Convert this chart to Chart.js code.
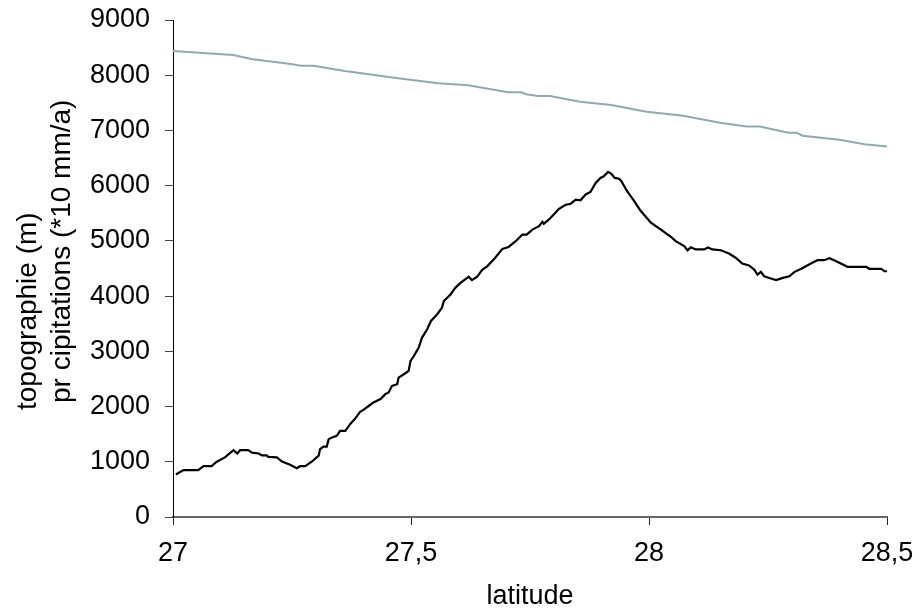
<!DOCTYPE html>
<html>
<head>
<meta charset="utf-8">
<title>topographie et précipitations</title>
<script src="https://cdn.jsdelivr.net/npm/chart.js@4/dist/chart.umd.min.js"></script>
<style>
  html, body { margin: 0; padding: 0; background: #fff; }
  #wrap { position: relative; width: 922px; height: 614px; }
</style>
</head>
<body>
<div id="wrap"><canvas id="profile" width="922" height="614"></canvas></div>
<script>
// latitude ticks and labels (comma decimals, as in the original)
const xTicks = [27, 27.5, 28, 28.5];
const xTickLabels = ['27', '27,5', '28', '28,5'];
const yTicks = [0, 1000, 2000, 3000, 4000, 5000, 6000, 7000, 8000, 9000];

// axis titles
const xTitle = 'latitude';
const yTitleLines = ['topographie (m)', 'pr cipitations (*10 mm/a)'];

// topography profile (m), black line
const topoLat = [
    27.006, 27.022, 27.053, 27.064, 27.081, 27.092, 27.109, 27.127, 27.135, 27.141,
    27.158, 27.166, 27.180, 27.187, 27.197, 27.200, 27.218, 27.229, 27.246, 27.260,
    27.267, 27.278, 27.292, 27.306, 27.309, 27.316, 27.323, 27.327, 27.334, 27.344,
    27.351, 27.362, 27.372, 27.383, 27.393, 27.400, 27.411, 27.421, 27.436, 27.446,
    27.453, 27.460, 27.471, 27.474, 27.485, 27.495, 27.499, 27.506, 27.516, 27.523,
    27.534, 27.542, 27.555, 27.565, 27.569, 27.583, 27.593, 27.604, 27.618, 27.621,
    27.628, 27.639, 27.650, 27.660, 27.677, 27.692, 27.705, 27.720, 27.734, 27.743,
    27.755, 27.769, 27.776, 27.779, 27.793, 27.811, 27.825, 27.835, 27.846, 27.856,
    27.867, 27.877, 27.888, 27.898, 27.905, 27.914, 27.921, 27.928, 27.937, 27.942,
    27.954, 27.969, 27.982, 28.004, 28.025, 28.046, 28.056, 28.074, 28.081, 28.088,
    28.098, 28.116, 28.124, 28.133, 28.151, 28.168, 28.182, 28.196, 28.210, 28.221,
    28.228, 28.235, 28.242, 28.256, 28.267, 28.281, 28.295, 28.305, 28.323, 28.340,
    28.354, 28.368, 28.379, 28.389, 28.403, 28.417, 28.456, 28.463, 28.488, 28.495,
    28.500
];
const topoValues = [
    770, 850, 850, 920, 920, 1000, 1080, 1210, 1150, 1210,
    1210, 1165, 1150, 1115, 1115, 1090, 1080, 1005, 945, 885,
    920, 920, 1005, 1110, 1230, 1275, 1275, 1410, 1440, 1470,
    1560, 1560, 1680, 1785, 1905, 1940, 2010, 2075, 2135, 2225,
    2255, 2375, 2405, 2525, 2585, 2645, 2825, 2915, 3065, 3245,
    3400, 3550, 3670, 3790, 3910, 4030, 4150, 4240, 4330, 4350,
    4290, 4350, 4480, 4540, 4695, 4855, 4890, 4995, 5115, 5115,
    5205, 5265, 5345, 5310, 5415, 5580, 5655, 5670, 5745, 5735,
    5840, 5885, 6050, 6140, 6170, 6250, 6215, 6140, 6125, 6080,
    5900, 5720, 5550, 5330, 5205, 5075, 4995, 4905, 4830, 4885,
    4845, 4845, 4880, 4845, 4830, 4770, 4695, 4590, 4555, 4480,
    4390, 4440, 4360, 4320, 4290, 4330, 4360, 4435, 4510, 4590,
    4650, 4650, 4685, 4650, 4590, 4530, 4530, 4495, 4495, 4450,
    4450
];

// precipitation (*10 mm/a), grey line
const precipLat = [
    27.000, 27.127, 27.164, 27.193, 27.248, 27.269, 27.295, 27.361, 27.473, 27.557,
    27.620, 27.704, 27.732, 27.742, 27.767, 27.792, 27.855, 27.921, 27.995, 28.072,
    28.149, 28.205, 28.233, 28.293, 28.310, 28.323, 28.400, 28.453, 28.500
];
const precipValues = [
    8440, 8365, 8295, 8260, 8205, 8170, 8170, 8075, 7945, 7855,
    7820, 7690, 7690, 7655, 7625, 7625, 7520, 7460, 7340, 7265,
    7140, 7070, 7070, 6960, 6960, 6905, 6830, 6750, 6710
];

const FONT = "'Liberation Sans', Arial, sans-serif";

// draws the two-line y axis title, left aligned (reading bottom to top)
const yTitlePlugin = {
    id: 'yTitle',
    afterDraw(chart) {
        const ctx = chart.ctx;
        const starts = [{ x: 36, y: 410 }, { x: 70, y: 403 }];
        ctx.save();
        ctx.font = '28px ' + FONT;
        ctx.fillStyle = '#000';
        ctx.textAlign = 'left';
        ctx.textBaseline = 'alphabetic';
        yTitleLines.forEach((line, i) => {
            ctx.save();
            ctx.translate(starts[i].x, starts[i].y);
            ctx.rotate(-Math.PI / 2);
            ctx.fillText(line, 0, 0);
            ctx.restore();
        });
        ctx.restore();
    }
};

const ctx = document.getElementById('profile').getContext('2d');
const profileChart = new Chart(ctx, {
    type: 'line',
    data: {
        datasets: [
            {
                label: 'précipitations',
                data: precipLat.map((x, i) => ({ x, y: precipValues[i] })),
                borderColor: '#8fa9b1',
                borderWidth: 2,
                pointRadius: 0,
                tension: 0
            },
            {
                label: 'topographie',
                data: topoLat.map((x, i) => ({ x, y: topoValues[i] })),
                borderColor: '#000000',
                borderWidth: 2.2,
                pointRadius: 0,
                tension: 0
            }
        ]
    },
    options: {
        responsive: false,
        animation: false,
        devicePixelRatio: 1,
        layout: { padding: { top: 20, right: 35, bottom: 0, left: 0 } },
        plugins: {
            legend: { display: false },
            tooltip: { enabled: false }
        },
        scales: {
            x: {
                type: 'linear',
                min: 27,
                max: 28.5,
                afterBuildTicks: scale => { scale.ticks = xTicks.map(v => ({ value: v })); },
                afterFit: scale => {
                    scale.height = 97;
                    scale.paddingLeft = 0;
                    scale.paddingRight = 0;
                },
                ticks: {
                    callback: (v, i) => xTickLabels[i],
                    color: '#000',
                    font: { family: FONT, size: 27 },
                    padding: 12,
                    maxRotation: 0
                },
                grid: { drawOnChartArea: false, drawTicks: true, tickLength: 8, color: '#222' },
                border: { color: '#666', width: 2 },
                title: {
                    display: true,
                    text: xTitle,
                    color: '#000',
                    font: { family: FONT, size: 27 },
                    padding: { top: 0, bottom: 1 }
                }
            },
            y: {
                min: 0,
                max: 9000,
                afterBuildTicks: scale => { scale.ticks = yTicks.map(v => ({ value: v })); },
                afterFit: scale => {
                    scale.width = 173;
                    scale.paddingTop = 0;
                    scale.paddingBottom = 0;
                },
                ticks: {
                    callback: v => String(v),
                    color: '#000',
                    font: { family: FONT, size: 27 },
                    padding: 15
                },
                grid: { drawOnChartArea: false, drawTicks: true, tickLength: 8, color: '#444' },
                border: { color: '#000', width: 1 }
            }
        }
    },
    plugins: [yTitlePlugin]
});
</script>
</body>
</html>
